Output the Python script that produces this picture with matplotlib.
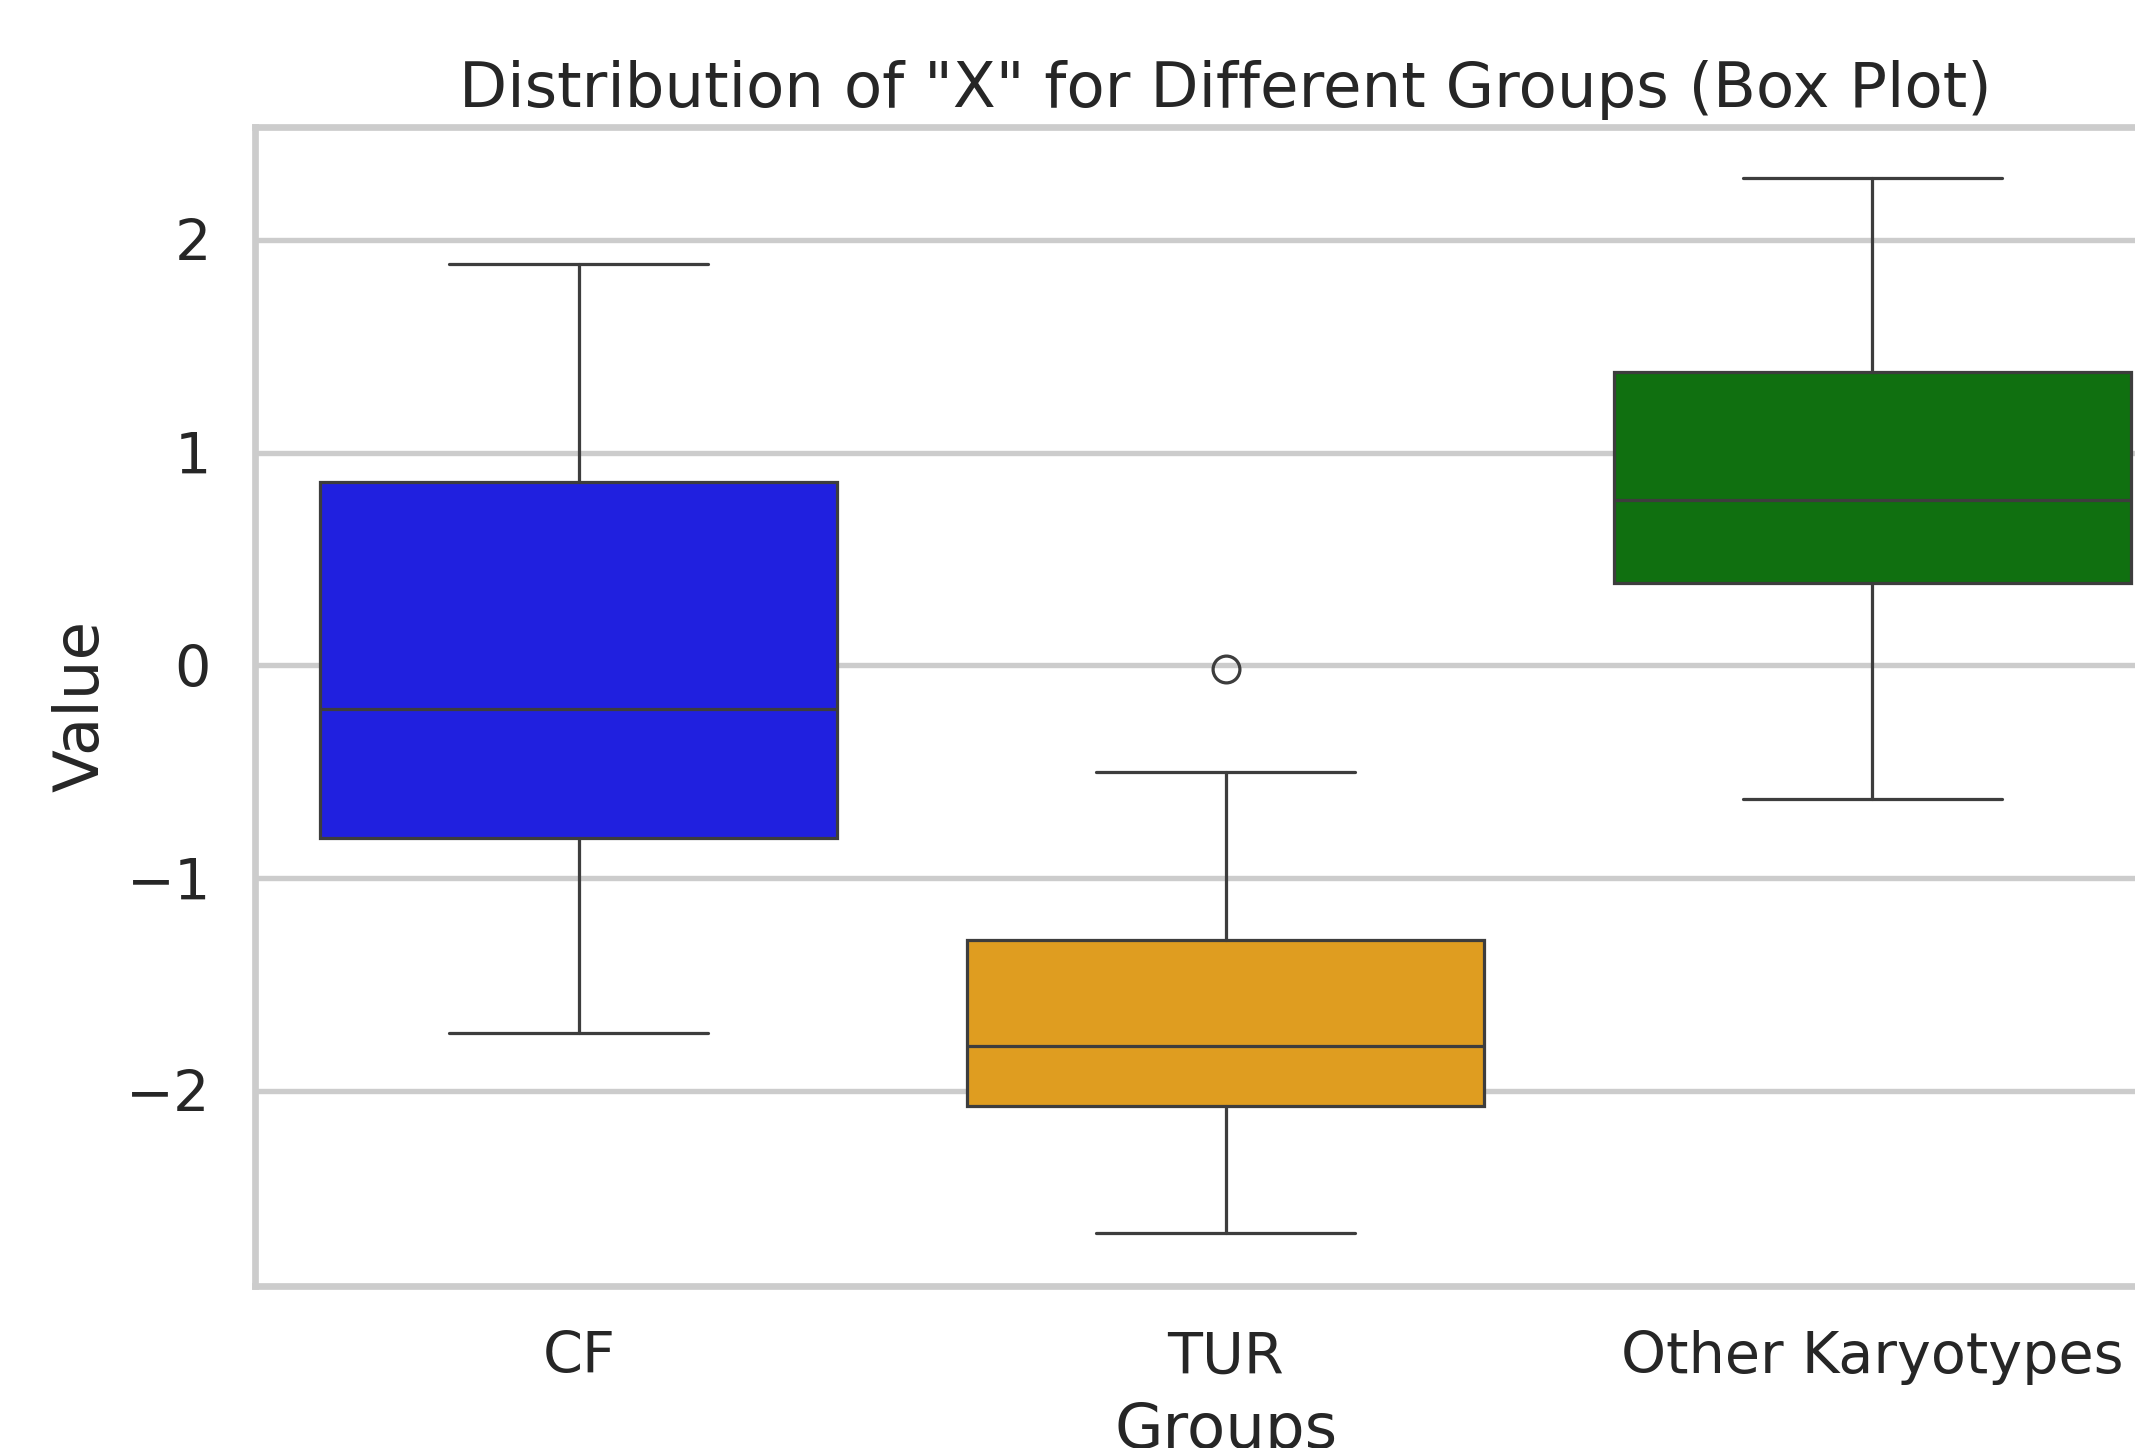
import matplotlib
matplotlib.use("Agg")
import matplotlib.pyplot as plt
import seaborn as sns

sns.set_theme(style="whitegrid")

# box statistics
groups = ["CF", "TUR", "Other Karyotypes"]
whisker_low = [-1.73, -2.67, -0.63]
q1 = [-0.81, -2.07, 0.385]
median = [-0.205, -1.79, 0.775]
q3 = [0.86, -1.29, 1.38]
whisker_high = [1.885, -0.50, 2.29]
outliers = [[], [-0.02], []]
colors = ["#2020df", "#df9d20", "#107010"]  # blue, orange, green at seaborn saturation .75

stats = []
for i in range(len(groups)):
    stats.append(dict(label=groups[i], whislo=whisker_low[i], q1=q1[i], med=median[i],
                      q3=q3[i], whishi=whisker_high[i], fliers=outliers[i]))

dpi = 386
fig = plt.figure(figsize=(2135 / dpi, 1448 / dpi), dpi=dpi)
ax = fig.add_axes([0.1196, 0.1121, 0.9089, 0.8004])

lc = "#3d3d3d"
lw = 0.6
bp = ax.bxp(stats, positions=range(len(groups)), widths=0.8, capwidths=0.4,
            patch_artist=True,
            boxprops=dict(edgecolor=lc, linewidth=lw),
            medianprops=dict(color=lc, linewidth=lw),
            whiskerprops=dict(color=lc, linewidth=lw),
            capprops=dict(color=lc, linewidth=lw),
            flierprops=dict(marker="o", markerfacecolor="none", markeredgecolor=lc,
                            markersize=5, markeredgewidth=lw))
for patch, c in zip(bp["boxes"], colors):
    patch.set_facecolor(c)

ax.set_xlim(-0.5, 2.5)
ax.set_ylim(-2.917, 2.532)
ax.set_yticks([-2, -1, 0, 1, 2])
ax.xaxis.grid(False)
ax.set_axisbelow(True)
ax.tick_params(axis='both', labelsize=10.7, pad=2.3)

plt.title('Distribution of "X" for Different Groups (Box Plot)', fontsize=11.7, pad=3.7)
plt.xlabel('Groups', fontsize=11.7, labelpad=2.9)
plt.ylabel('Value', fontsize=11.7, labelpad=2.7)

fig.savefig("out.png", dpi=dpi)
